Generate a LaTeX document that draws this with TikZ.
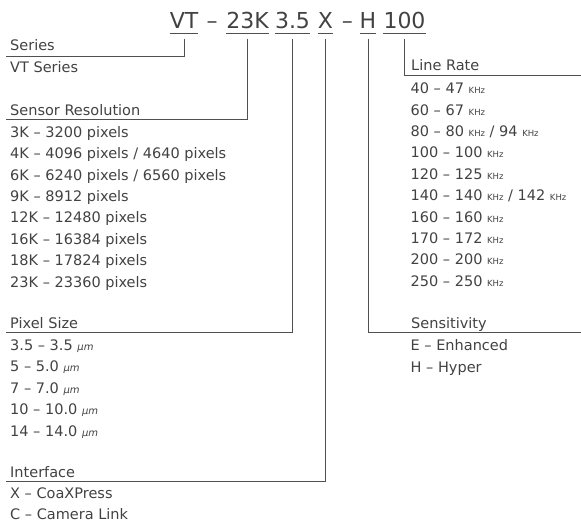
\documentclass[tikz,border=0pt]{standalone}
\usepackage{fontspec}
\setmainfont{DejaVu Sans}
\usetikzlibrary{positioning}
\definecolor{ink}{RGB}{66,66,66}
\definecolor{rule}{RGB}{80,80,80}
\newcommand{\khz}{{\fontsize{8.5}{9}\selectfont KHz}}
\newcommand{\um}{{\fontsize{10}{10}\selectfont\itshape µm}}
\tikzstyle{code} = [font=\fontsize{22}{26}\selectfont,
text=ink,
inner xsep=0pt,
inner ysep=5pt,
text depth=0pt,
anchor=base]
\tikzstyle{head} = [font=\fontsize{14.5}{17}\selectfont,
text=ink,
inner sep=0pt,
anchor=base west]
\tikzstyle{items} = [font=\fontsize{14.5}{21.4}\selectfont,
text=ink,
inner sep=0pt,
anchor=north west,
align=left]
\tikzstyle{uline} = [draw=rule, line width=0.9pt]
\tikzstyle{conn} = [draw=rule, line width=0.9pt, shorten <=6pt]

\begin{document}
\begin{tikzpicture}[x=1pt, y=-1pt]
\useasboundingbox (0,0) rectangle (581,524);

% order code
\node (vt) [code] at (184,28.3) {VT};
\node (dash1) [code] at (212,28.3) {–};
\node (res) [code] at (247.5,28.3) {23K};
\node (pix) [code] at (292.5,28.3) {3.5};
\node (intf) [code] at (325.5,28.3) {X};
\node (dash2) [code] at (347.3,28.3) {–};
\node (sens) [code] at (368,28.3) {H};
\node (rate) [code] at (404.5,28.3) {100};

\foreach \part in {vt,res,pix,intf,sens,rate}
  \draw [uline] (\part.south west) -- (\part.south east);

% line ends
\coordinate (seriesEnd) at (6,56);
\coordinate (resEnd) at (6,119.5);
\coordinate (pixEnd) at (6,332.5);
\coordinate (intfEnd) at (6,481.7);
\coordinate (rateEnd) at (581,75.5);
\coordinate (sensEnd) at (581,332.7);

% headings
\node (seriesH) [head] at (10,51) {Series};
\node (resH) [head] at (10,115.5) {Sensor Resolution};
\node (pixH) [head] at (10,328) {Pixel Size};
\node (intfH) [head] at (10,477.5) {Interface};
\node (rateH) [head] at (411,71) {Line Rate};
\node (sensH) [head] at (411,328.2) {Sensitivity};

% options
\node (seriesL) [items] at (10,61.6) {VT Series};
\node (resL) [items] at (10,126) {3K – 3200 pixels\\
4K – 4096 pixels / 4640 pixels\\
6K – 6240 pixels / 6560 pixels\\
9K – 8912 pixels\\
12K – 12480 pixels\\
16K – 16384 pixels\\
18K – 17824 pixels\\
23K – 23360 pixels};
\node (pixL) [items] at (10,339.5) {3.5 – 3.5 \um\\
5 – 5.0 \um\\
7 – 7.0 \um\\
10 – 10.0 \um\\
14 – 14.0 \um};
\node (intfL) [items] at (10,487.5) {X – CoaXPress\\C – Camera Link};
\node (rateL) [items] at (410.5,82.8) {40 – 47 \khz\\
60 – 67 \khz\\
80 – 80 \khz{} / 94 \khz\\
100 – 100 \khz\\
120 – 125 \khz\\
140 – 140 \khz{} / 142 \khz\\
160 – 160 \khz\\
170 – 172 \khz\\
200 – 200 \khz\\
250 – 250 \khz};
\node (sensL) [items] at (410.5,339.5) {E – Enhanced\\H – Hyper};

\draw [conn] (vt.south) |- (seriesEnd);
\draw [conn] (res.south) |- (resEnd);
\draw [conn] (pix.south) |- (pixEnd);
\draw [conn] (intf.south) |- (intfEnd);
\draw [conn] (sens.south) |- (sensEnd);
\draw [conn] (rate.south) |- (rateEnd);

\end{tikzpicture}
\end{document}
